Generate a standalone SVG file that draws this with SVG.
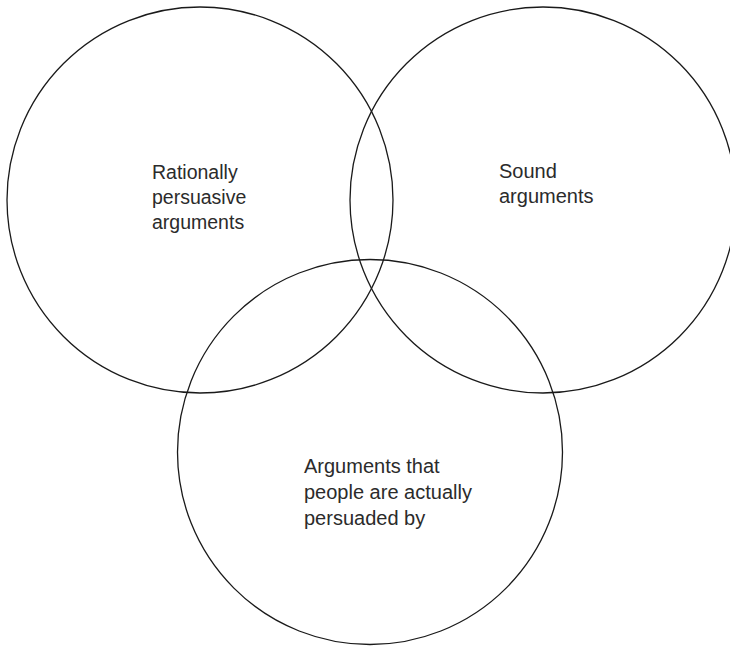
<svg xmlns="http://www.w3.org/2000/svg" width="730" height="648" viewBox="0 0 730 648">
<style>
.c{fill:none;stroke:#1a1a1a;stroke-width:1.3}
.t{font-family:"Liberation Sans",Arial,sans-serif;font-size:19.5px;fill:#2b2b2b}
.b{font-size:20px}
</style>
<rect width="730" height="648" fill="#fff"/>
<g id="rational">
<circle class="c" cx="200" cy="200" r="193"/>
<text class="t" x="152" y="179">Rationally</text>
<text class="t" x="152" y="204">persuasive</text>
<text class="t" x="152" y="229">arguments</text>
</g>
<g id="sound">
<circle class="c" cx="543" cy="200" r="193"/>
<text class="t b" x="499" y="178">Sound</text>
<text class="t b" x="499" y="203">arguments</text>
</g>
<g id="persuaded">
<circle class="c" cx="370" cy="452" r="192.5"/>
<text class="t b" x="304" y="473">Arguments that</text>
<text class="t b" x="304" y="499">people are actually</text>
<text class="t b" x="304" y="525">persuaded by</text>
</g>
<g id="connectors"></g>
</svg>
